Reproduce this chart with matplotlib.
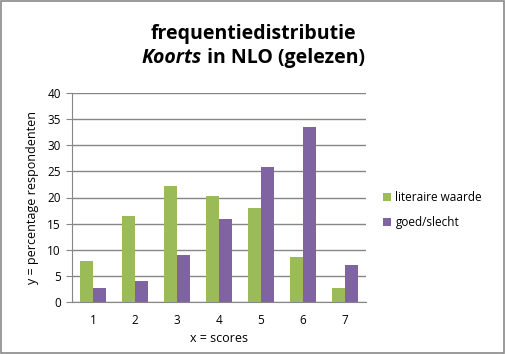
import numpy as np
import matplotlib.pyplot as plt
from matplotlib.patches import Rectangle

# scores and percentages
scores = ['1', '2', '3', '4', '5', '6', '7']
literair = [7.8, 16.5, 22.2, 20.3, 18.0, 8.6, 2.7]
goed_slecht = [2.7, 4.0, 9.0, 15.9, 25.9, 33.5, 7.1]
series_names = ['literaire waarde', 'goed/slecht']

GREEN = '#9BBB59'
PURPLE = '#8064A2'
GRID = '#868686'

plt.rcParams['font.family'] = ['Open Sans', 'DejaVu Sans']

fig = plt.figure(figsize=(5.06, 3.54), dpi=100)
# grey chart border like the spreadsheet export
fig.patches.append(Rectangle((0.002, 0.003), 0.994, 0.994, transform=fig.transFigure,
                             fill=False, edgecolor='#898989', linewidth=1.2))

ax = fig.add_axes([72 / 506, 52 / 354, 294 / 506, 209 / 354])
ind = np.arange(len(scores))
width = 0.3

ax.bar(ind - width / 2, literair, width, color=GREEN, label=series_names[0], zorder=3)
ax.bar(ind + width / 2, goed_slecht, width, color=PURPLE, label=series_names[1], zorder=3)

ax.set_xlim(-0.5, len(scores) - 0.5)
ax.set_ylim(0, 40)
ax.set_yticks(range(0, 41, 5))
ax.set_xticks(ind)
ax.set_xticklabels(scores)
ax.yaxis.grid(True, color=GRID, linewidth=1.0, zorder=0)
for side in ['top', 'right']:
    ax.spines[side].set_visible(False)
for side in ['left', 'bottom']:
    ax.spines[side].set_color(GRID)
ax.tick_params(axis='x', length=0, labelsize=8.5, pad=9)
ax.tick_params(axis='y', length=4, color=GRID, labelsize=8.5, pad=4)

ax.set_xlabel('x = scores', fontsize=9, labelpad=3)
ax.set_ylabel('y = percentage respondenten', fontsize=9, labelpad=6)

fig.text(0.5, 0.905, 'frequentiedistributie', ha='center', va='center',
         fontsize=14, fontweight='bold')

# second title line with one italic word, centred as a whole
t1 = fig.text(0.5, 0.835, 'Koorts', ha='left', va='center', fontsize=14,
              fontweight='bold', style='italic')
t2 = fig.text(0.5, 0.835, ' in NLO (gelezen)', ha='left', va='center', fontsize=14,
              fontweight='bold')
fig.canvas.draw()
r = fig.canvas.get_renderer()
w1 = t1.get_window_extent(r).width
w2 = t2.get_window_extent(r).width
x0 = (506 - (w1 + w2)) / 2
t1.set_x(x0 / 506)
t2.set_x((x0 + w1) / 506)

ax.legend(loc='center left', bbox_to_anchor=(1.02, 0.44), frameon=False, fontsize=8.5,
          handlelength=0.7, handleheight=0.7, handletextpad=0.4, labelspacing=1.0)

fig.savefig('out.png', dpi=100)
